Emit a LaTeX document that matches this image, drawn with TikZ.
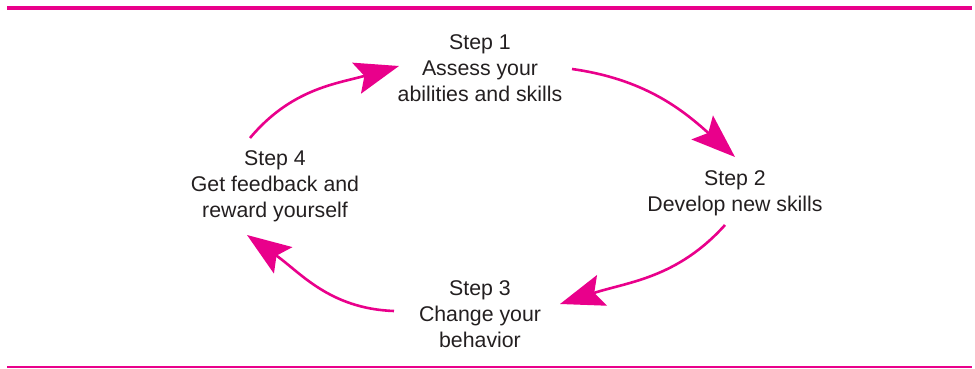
\documentclass[tikz,border=0pt]{standalone}
\usepackage{fontspec}
\setmainfont{Liberation Sans}
\usetikzlibrary{arrows.meta}
\definecolor{cyclepink}{RGB}{233,0,139}
\definecolor{steptextcolor}{RGB}{35,31,32}
\begin{document}
\begin{tikzpicture}[x=1pt,y=-1pt,
  steptext/.style={align=center,font=\fontsize{21.3}{26}\selectfont,text=steptextcolor,inner sep=0pt},
  cyclearrow/.style={draw=cyclepink,line width=2.6pt,
    -{Stealth[length=44pt,width=32pt,inset=8pt,fill=cyclepink]}}]
  \useasboundingbox (0,0) rectangle (975,369);
  % rules above and below
  \draw[cyclepink,line width=3.6pt] (7,8) coordinate (ruleTL) -- (972,8) coordinate (ruleTR);
  \draw[cyclepink,line width=1.4pt] (7,367) coordinate (ruleBL) -- (972,367) coordinate (ruleBR);
  % the four steps
  \node[steptext] (s1) at (480,68) {Step 1\\Assess your\\abilities and skills};
  \node[steptext] (s2) at (735,193) {Step 2\\Develop new skills};
  \node[steptext] (s3) at (480,314) {Step 3\\Change your\\behavior};
  \node[steptext] (s4) at (275,186) {Step 4\\Get feedback and\\reward yourself};
  % arrow end points
  \coordinate (a1s) at (250,138); \coordinate (a1e) at (399,66);
  \coordinate (a2s) at (572,69);  \coordinate (a2e) at (735,157);
  \coordinate (a3s) at (725,225); \coordinate (a3e) at (560,304);
  \coordinate (a4s) at (394,311); \coordinate (a4e) at (247,235);
  % cycle arrows
  \draw[cyclearrow] (a1s) to[out=50,in=196] (a1e);
  \draw[cyclearrow] (a2s) to[out=-8,in=138] (a2e);
  \draw[cyclearrow] (a3s) to[out=-132,in=18] (a3e);
  \draw[cyclearrow] (a4s) to[out=178,in=-35] (a4e);
\end{tikzpicture}
\end{document}
